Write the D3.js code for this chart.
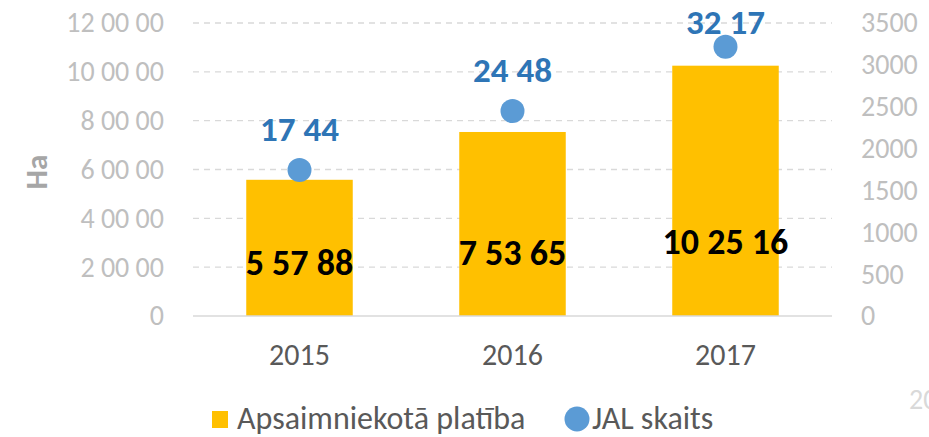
<!DOCTYPE html>
<html><head><meta charset="utf-8">
<script src="https://cdn.jsdelivr.net/npm/d3@7"></script>
<style>body{margin:0;background:#fff}svg{display:block}text{font-family:Carlito,Calibri,Lato,sans-serif}</style>
</head><body>
<svg id="c" width="929" height="437"></svg>
<script>
const categories = ["2015","2016","2017"];
const areaValues = [55788, 75365, 102516];
const jalValues = [1744, 2448, 3217];
const leftTicks = [0,20000,40000,60000,80000,100000,120000];
const rightTicks = [0,500,1000,1500,2000,2500,3000,3500];
const barLabelAnchor = [21800, 25900, 30400];

const fmt = v => { const s = String(v); if (s.length<=2) return s; const parts=[]; let t=s; while(t.length>2){parts.unshift(t.slice(-2)); t=t.slice(0,-2);} if(t) parts.unshift(t); return parts.join(" "); };

const svg = d3.select("#c");
const L=193, R=832, T=23, B=316;
const x = d3.scaleBand().domain(categories).range([L,R]).paddingInner(0.5).paddingOuter(0.25);
const yL = d3.scaleLinear().domain([0,120000]).range([B,T]);
const yR = d3.scaleLinear().domain([0,3500]).range([B,T]);

// gridlines
svg.append("g").selectAll("line").data(leftTicks.filter(d=>d>0)).join("line")
 .attr("x1",L).attr("x2",R).attr("y1",d=>yL(d)).attr("y2",d=>yL(d))
 .attr("stroke","#D9D9D9").attr("stroke-width",1.3).attr("stroke-dasharray","6,5");
// left axis
const ax = d3.axisLeft(yL).tickValues(leftTicks).tickFormat(fmt).tickSize(0).tickPadding(29);
const gL = svg.append("g").attr("transform",`translate(${L},0)`).call(ax);
gL.select(".domain").remove();
gL.selectAll("text").attr("fill","#BFBFBF").style("font-size","28px");
// right axis
const ar = d3.axisRight(yR).tickValues(rightTicks).tickFormat(d=>String(d)).tickSize(0).tickPadding(29);
const gR = svg.append("g").attr("transform",`translate(${R},0)`).call(ar);
gR.select(".domain").remove();
gR.selectAll("text").attr("fill","#BFBFBF").style("font-size","28px");

// bars
svg.append("g").selectAll("rect").data(areaValues).join("rect")
 .attr("x",(d,i)=>x(categories[i])).attr("width",x.bandwidth())
 .attr("y",d=>yL(d)).attr("height",d=>B-yL(d)).attr("fill","#FFC000");
// baseline
svg.append("line").attr("x1",L).attr("x2",R).attr("y1",B).attr("y2",B).attr("stroke","#D9D9D9").attr("stroke-width",1.3);

// x axis labels
const ab = d3.axisBottom(x).tickSize(0).tickPadding(28);
const gB = svg.append("g").attr("transform",`translate(0,${B})`).call(ab);
gB.select(".domain").remove();
gB.selectAll("text").attr("fill","#595959").style("font-size","30px");

// bar labels
svg.append("g").selectAll("text").data(areaValues).join("text")
 .attr("x",(d,i)=>x(categories[i])+x.bandwidth()/2).attr("y",(d,i)=>yL(barLabelAnchor[i]))
 .attr("text-anchor","middle").attr("dominant-baseline","central")
 .attr("font-weight","bold").style("font-size","36px").attr("fill","#000").text(fmt);

// points
svg.append("g").selectAll("circle").data(jalValues).join("circle")
 .attr("cx",(d,i)=>x(categories[i])+x.bandwidth()/2).attr("cy",d=>yR(d)).attr("r",12).attr("fill","#5B9BD5");
svg.append("g").selectAll("text").data(jalValues).join("text")
 .attr("x",(d,i)=>x(categories[i])+x.bandwidth()/2).attr("y",d=>Math.max(22,yR(d)-41))
 .attr("text-anchor","middle").attr("dominant-baseline","central")
 .attr("font-weight","bold").style("font-size","35px").attr("fill","#2E75B6").text(fmt);

// y title
svg.append("text").attr("transform","translate(36,172) rotate(-90)").attr("text-anchor","middle")
 .attr("dominant-baseline","central").attr("font-weight","bold").style("font-size","31px").attr("fill","#A6A6A6").text("Ha");

// legend
const lg = svg.append("g");
lg.append("rect").attr("x",212).attr("y",411).attr("width",16).attr("height",17).attr("fill","#FFC000");
lg.append("text").attr("x",237).attr("y",418).attr("dominant-baseline","central").style("font-size","32px").attr("fill","#595959").text("Apsaimniekotā platība");
lg.append("circle").attr("cx",577).attr("cy",419).attr("r",12.5).attr("fill","#5B9BD5");
lg.append("text").attr("x",592).attr("y",418).attr("dominant-baseline","central").style("font-size","32px").attr("fill","#595959").text("JAL skaits");
svg.append("text").attr("x",909).attr("y",399).attr("dominant-baseline","central").style("font-size","28px").attr("fill","#D9D9D9").text("20");
</script>
</body></html>
